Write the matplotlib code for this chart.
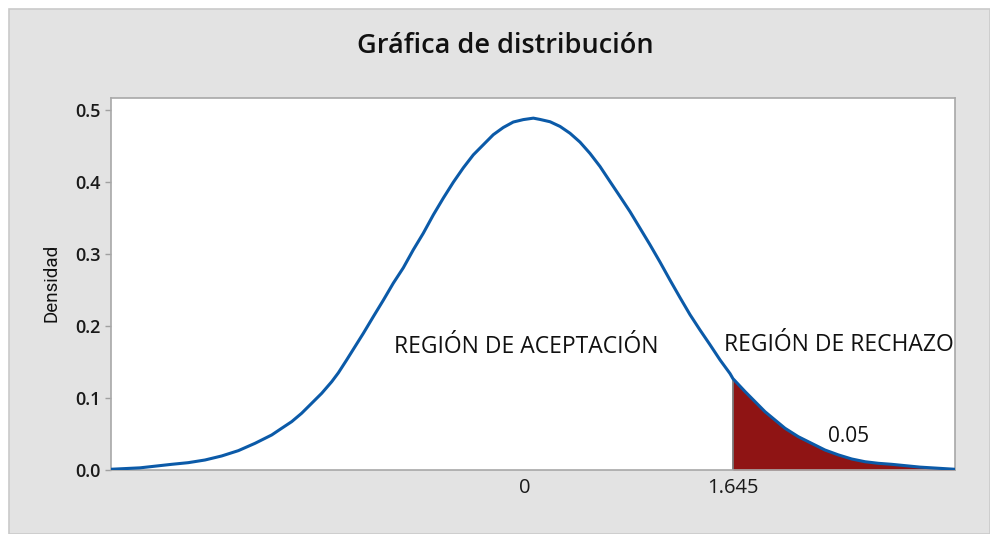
import matplotlib
matplotlib.use("Agg")
import matplotlib.pyplot as plt
from matplotlib.patches import Rectangle

# Curve (x in data units, density)
curve_x = [-3.278, -3.046, -2.795, -2.664, -2.532, -2.400, -2.268, -2.136, -2.004,
           -1.925, -1.846, -1.767, -1.688, -1.608, -1.529, -1.477, -1.411, -1.345,
           -1.279, -1.200, -1.121, -1.042, -0.963, -0.884, -0.805, -0.725, -0.646,
           -0.567, -0.488, -0.409, -0.330, -0.251, -0.172, -0.093, -0.013, 0.066,
           0.119, 0.198, 0.277, 0.356, 0.435, 0.514, 0.593, 0.672, 0.752, 0.831,
           0.910, 0.989, 1.068, 1.147, 1.226, 1.305, 1.384, 1.464, 1.543, 1.622,
           1.645, 1.741, 1.820, 1.899, 1.978, 2.057, 2.162, 2.268, 2.373, 2.479,
           2.585, 2.690, 2.795, 2.901, 3.125, 3.402]
curve_y = [0.001, 0.003, 0.0079, 0.0102, 0.0139, 0.0195, 0.0269, 0.0371, 0.0487,
           0.058, 0.0672, 0.0789, 0.0927, 0.1067, 0.1228, 0.135, 0.153, 0.1715,
           0.190, 0.2132, 0.236, 0.2597, 0.281, 0.306, 0.329, 0.3547, 0.378,
           0.400, 0.420, 0.438, 0.452, 0.466, 0.476, 0.4836, 0.487, 0.489,
           0.4872, 0.484, 0.4775, 0.468, 0.4557, 0.440, 0.4219, 0.401, 0.380, 0.359,
           0.336, 0.313, 0.289, 0.264, 0.2397, 0.216, 0.1947, 0.174, 0.153, 0.134,
           0.127, 0.109, 0.095, 0.081, 0.0695, 0.058, 0.0463, 0.037, 0.0278, 0.021,
           0.0153, 0.0115, 0.0093, 0.0079, 0.004, 0.001]
critical = 1.645
alpha_label = "0.05"
xtick_vals = [0, 1.645]
xtick_labels = ["0", "1.645"]
ytick_vals = [0.0, 0.1, 0.2, 0.3, 0.4, 0.5]
ytick_labels = ["0.0", "0.1", "0.2", "0.3", "0.4", "0.5"]

plt.rcParams['font.family'] = ['Open Sans', 'DejaVu Sans']

fig = plt.figure(figsize=(9.9, 5.34), dpi=100)
fig.patch.set_facecolor("white")
bg = Rectangle((9/990, 0), 1 - 9/990, 1 - 9/534, transform=fig.transFigure,
               facecolor="#e3e3e3", edgecolor="#cacaca", linewidth=1.2, zorder=-10)
fig.patches.append(bg)

ax = fig.add_axes([110.7/990, 1 - 470/534, (955 - 110.7)/990, (470 - 98)/534])
ax.set_zorder(1)
ax.set_facecolor("white")

ax.plot(curve_x, curve_y, color="#0b5aa8", linewidth=2.2, zorder=3,
        solid_joinstyle="round")

sx = [x for x in curve_x if x >= critical]
sy = [y for x, y in zip(curve_x, curve_y) if x >= critical]
ax.fill_between(sx, sy, 0, color="#8f1414", linewidth=0, zorder=2)
ax.plot([critical, critical], [0, sy[0]], color="#6e6e6e", linewidth=1.2, zorder=2.5)

ax.set_xlim(-3.278, 3.402)
ax.set_ylim(0, 0.517)

ax.set_xticks(xtick_vals)
ax.set_xticklabels(xtick_labels, fontsize=14.5, color="#1a1a1a")
ax.tick_params(axis="x", length=0, pad=6)
ax.set_yticks(ytick_vals)
ax.set_yticklabels(ytick_labels, fontsize=13, fontweight="semibold", color="#1a1a1a")
ax.tick_params(axis="y", length=4.5, width=1, color="#a0a0a0", pad=3)

for s in ax.spines.values():
    s.set_color("#a8a8a8")
    s.set_linewidth(1.2)

fig.text(52/990, 1 - 283/534, "Densidad", rotation=90, ha="center", va="center",
         fontsize=13.5, family=['Roboto', 'DejaVu Sans'], color="#111111")
fig.text(505/990, 1 - 46/534, "Gráfica de distribución", ha="center", va="center",
         fontsize=19.5, fontweight="semibold", color="#111111")

ax.text(0.008, 0.171, "REGIÓN DE ACEPTACIÓN", ha="center", va="center", fontsize=16.5,
        color="#111111", zorder=4)
ax.text(2.48, 0.174, "REGIÓN DE RECHAZO", ha="center", va="center", fontsize=16.5,
        color="#111111", zorder=4, clip_on=False)
ax.text(2.559, 0.0463, alpha_label, ha="center", va="center", fontsize=15,
        color="#111111", zorder=4)

fig.savefig("out.png", dpi=100)
